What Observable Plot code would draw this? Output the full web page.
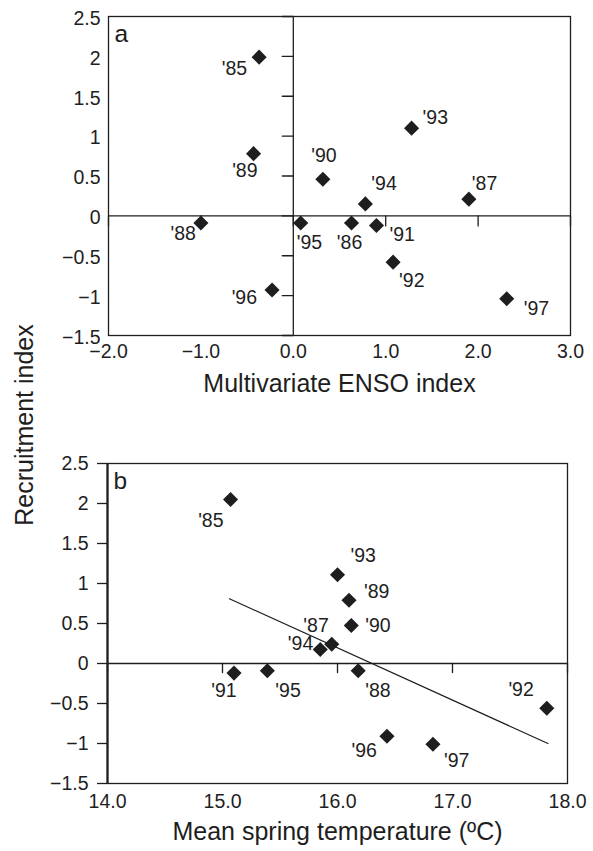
<!DOCTYPE html>
<html><head><meta charset="utf-8">
<script src="https://cdn.jsdelivr.net/npm/d3@7"></script>
<script src="https://cdn.jsdelivr.net/npm/@observablehq/plot@0.6"></script>
<style>
body{margin:0;background:#fff;}
#wrap{position:relative;width:593px;height:851px;background:#fff;font-family:"Liberation Sans",Arial,Helvetica,sans-serif;color:#1e1e1e;}
#pa{position:absolute;left:0;top:0;}
#pb{position:absolute;left:0;top:420px;}
#ytitle{position:absolute;left:24px;top:425px;transform:translate(-50%,-50%) rotate(-90deg);font-size:25px;line-height:1;white-space:nowrap;}
</style></head><body>
<div id="wrap"><div id="pa"></div><div id="pb"></div><div id="ytitle">Recruitment index</div></div>
<script>
// ---- Data: panel a (Multivariate ENSO index vs recruitment) ----
const yearsA   = ["'85","'86","'87","'88","'89","'90","'91","'92","'93","'94","'95","'96","'97"];
const ensoA    = [-0.37, 0.63, 1.90, -1.00, -0.43, 0.32, 0.90, 1.08, 1.28, 0.78, 0.08, -0.23, 2.31];
const recruitA = [1.99, -0.09, 0.21, -0.09, 0.78, 0.46, -0.12, -0.58, 1.10, 0.15, -0.09, -0.93, -1.04];

// ---- Data: panel b (mean spring temperature vs recruitment) ----
const yearsB   = ["'85","'87","'88","'89","'90","'91","'92","'93","'94","'95","'96","'97"];
const tempB    = [15.07, 15.95, 16.18, 16.10, 16.12, 15.10, 17.82, 16.00, 15.85, 15.39, 16.43, 16.83];
const recruitB = [2.05, 0.24, -0.09, 0.79, 0.475, -0.12, -0.56, 1.11, 0.175, -0.09, -0.91, -1.01];

// regression line (panel b)
const fitX = [15.06, 17.83];
const fitY = [0.81, -1.00];

// ---- Ticks ----
const yTickValues = [-1.5, -1, -0.5, 0, 0.5, 1, 1.5, 2, 2.5];
const yTickLabels = ["\u22121.5","\u22121","\u22120.5","0","0.5","1","1.5","2","2.5"];
const xTickValuesA = [-2, -1, 0, 1, 2, 3];
const xTickLabelsA = ["\u22122.0","\u22121.0","0.0","1.0","2.0","3.0"];
const xTickValuesB = [14, 15, 16, 17, 18];
const xTickLabelsB = ["14.0","15.0","16.0","17.0","18.0"];

// ---- Label placement (style/layout, not data): [textAnchor, dx, dy] ----
const placeA = {
  "'85":["end",-12,12], "'89":["end",4,17], "'90":["middle",1,-23], "'93":["start",11,-10],
  "'94":["start",6,-20], "'87":["start",3,-15], "'95":["start",-4,20], "'86":["middle",-2,20],
  "'91":["start",13,9], "'92":["start",6,19], "'97":["start",17,10], "'88":["end",-5,11], "'96":["end",-15,8]
};
const placeB = {
  "'85":["end",-7,21], "'93":["start",13,-19], "'89":["start",15,-9], "'90":["start",14,0],
  "'87":["end",-3,-19], "'94":["end",-7,-6], "'88":["start",7,20], "'92":["end",-13,-19],
  "'96":["end",-10,14], "'97":["start",11,16], "'91":["middle",-10,18], "'95":["start",8,20]
};

const ink = "#1e1e1e";
const font = '"Liberation Sans", Arial, Helvetica, sans-serif';
const tickShape = {draw(context, l) { context.moveTo(0, 0); context.lineTo(0, -l); }};

const dataA = yearsA.map((yr, i) => ({yr, x: ensoA[i], y: recruitA[i]}));
const dataB = yearsB.map((yr, i) => ({yr, x: tempB[i], y: recruitB[i]}));
const fitData = fitX.map((x, i) => ({x, y: fitY[i]}));

function labelMarks(data, place) {
  return data.map(d => {
    const [anchor, dx, dy] = place[d.yr];
    return Plot.text([d], {x: "x", y: "y", text: "yr", textAnchor: anchor, dx, dy, fill: ink});
  });
}
const fmt = (vals, labs) => d => labs[vals.indexOf(d)];

const plotA = Plot.plot({
  width: 593, height: 420,
  marginTop: 16, marginLeft: 108, marginRight: 23, marginBottom: 85,
  x: {domain: [-2, 3]},
  y: {domain: [-1.5, 2.5]},
  style: {fontFamily: font, fontSize: "19.5px", color: ink, background: "white", overflow: "visible"},
  marks: [
    Plot.frame({stroke: ink, strokeWidth: 1.3}),
    Plot.ruleY([0], {stroke: ink, strokeWidth: 1.3}),
    Plot.ruleX([0], {stroke: ink, strokeWidth: 1.3}),
    Plot.vector(yTickValues, {x: () => 0, y: d => d, rotate: -90, length: 11, anchor: "start", shape: tickShape, stroke: ink, strokeWidth: 1.3}),
    Plot.vector(xTickValuesA, {x: d => d, y: () => 0, rotate: 180, length: 10, anchor: "start", shape: tickShape, stroke: ink, strokeWidth: 1.3}),
    Plot.axisY({ticks: yTickValues, tickSize: 0, tickPadding: 8, tickFormat: fmt(yTickValues, yTickLabels), label: null, dy: 2, fill: ink}),
    Plot.axisX({ticks: xTickValuesA, tickSize: 0, tickPadding: 9, tickFormat: fmt(xTickValuesA, xTickLabelsA), label: null, fill: ink}),
    Plot.dot(dataA, {x: "x", y: "y", symbol: "diamond2", r: 6.8, fill: ink, stroke: null}),
    ...labelMarks(dataA, placeA),
    Plot.text(["a"], {text: d => d, frameAnchor: "top-left", dx: 6, dy: 8, lineAnchor: "top", fontSize: 24.5, fill: ink}),
    Plot.text(["Multivariate ENSO index"], {text: d => d, frameAnchor: "bottom", dy: 56.5, fontSize: 25, fill: ink})
  ]
});
document.getElementById("pa").append(plotA);

const plotB = Plot.plot({
  width: 593, height: 431,
  marginTop: 43, marginLeft: 107, marginRight: 26, marginBottom: 68,
  x: {domain: [14, 18]},
  y: {domain: [-1.5, 2.5]},
  style: {fontFamily: font, fontSize: "19.5px", color: ink, background: "white", overflow: "visible"},
  marks: [
    Plot.frame({stroke: ink, strokeWidth: 1.3}),
    Plot.ruleX([xTickValuesB[0]], {stroke: ink, strokeWidth: 2.2}),
    Plot.ruleY([0], {stroke: ink, strokeWidth: 1.3}),
    Plot.vector(xTickValuesB, {x: d => d, y: () => 0, rotate: 180, length: 9, anchor: "start", shape: tickShape, stroke: ink, strokeWidth: 1.3}),
    Plot.axisY({ticks: yTickValues, tickSize: 10, tickPadding: 9, tickFormat: fmt(yTickValues, yTickLabels), label: null, stroke: ink, strokeWidth: 1.3, fill: ink}),
    Plot.axisX({ticks: xTickValuesB, tickSize: 0, tickPadding: 10.5, tickFormat: fmt(xTickValuesB, xTickLabelsB), label: null, fill: ink}),
    Plot.line(fitData, {x: "x", y: "y", stroke: ink, strokeWidth: 1.2}),
    Plot.dot(dataB, {x: "x", y: "y", symbol: "diamond2", r: 6.8, fill: ink, stroke: null}),
    ...labelMarks(dataB, placeB),
    Plot.text(["b"], {text: d => d, frameAnchor: "top-left", dx: 6, dy: 8, lineAnchor: "top", fontSize: 24.5, fill: ink}),
    Plot.text(["Mean spring temperature (\u00baC)"], {text: d => d, frameAnchor: "bottom", dy: 56, fontSize: 25, fill: ink})
  ]
});
document.getElementById("pb").append(plotB);
</script>
</body></html>
